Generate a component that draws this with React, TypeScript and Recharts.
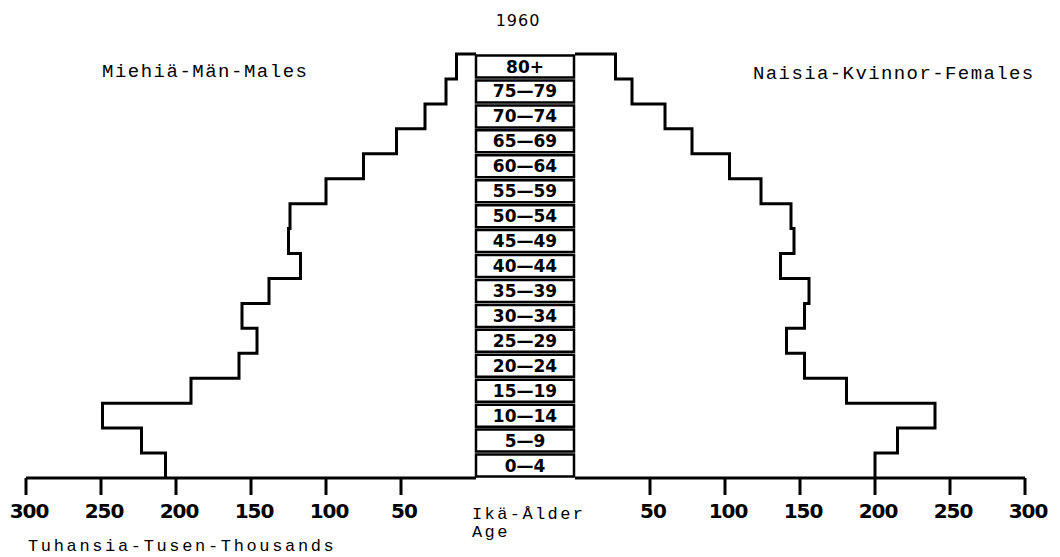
import { Bar, BarChart, LabelList, Scatter, ScatterChart, XAxis, YAxis } from "recharts";

const AGE_GROUPS = [
  "0—4", "5—9", "10—14", "15—19", "20—24", "25—29", "30—34", "35—39", "40—44",
  "45—49", "50—54", "55—59", "60—64", "65—69", "70—74", "75—79", "80+",
];
// lower/upper bounds of the age groups, in years
const AGE_BOUNDS = [0, 5, 10, 15, 20, 25, 30, 35, 40, 45, 50, 55, 60, 65, 70, 75, 80, 85];
// thousands, 0-4 first
const MALES = [207, 223, 249, 190, 158, 146, 156, 138, 117, 125, 124, 100, 75, 53, 34, 20, 13];
const FEMALES = [200, 215, 240, 181, 153, 141, 153, 156, 137, 146, 144, 124, 103, 78, 60, 38, 27];
const X_TICKS = [50, 100, 150, 200, 250, 300];

const INK = "#000";
const MONO = "'Liberation Mono', 'DejaVu Sans Mono', monospace";

// corners of the step outline: both ends of each age group, then back to the centre at the top
function stepPoints(values: number[]) {
  const pts: Array<{ v: number; age: number }> = [];
  values.forEach((v, i) => {
    pts.push({ v, age: AGE_BOUNDS[i] });
    pts.push({ v, age: AGE_BOUNDS[i + 1] });
  });
  pts.push({ v: 0, age: AGE_BOUNDS[values.length] });
  return pts;
}

const boxData = AGE_GROUPS.map((age) => ({ age, cell: 1 }));

function Side({
  values,
  reversed,
  width,
  margin,
}: {
  values: number[];
  reversed: boolean;
  width: number;
  margin: { top: number; right: number; bottom: number; left: number };
}) {
  return (
    <ScatterChart width={width} height={494} margin={margin}>
      <XAxis
        type="number"
        dataKey="v"
        domain={[0, 300]}
        reversed={reversed}
        ticks={X_TICKS}
        interval={0}
        height={60}
        axisLine={{ stroke: INK, strokeWidth: 3 }}
        tickLine={{ stroke: INK, strokeWidth: 3 }}
        tickSize={17}
        tickMargin={9}
        tick={{ fill: INK, fontSize: 20, fontWeight: 700, fontFamily: "DejaVu Sans", letterSpacing: -1, dx: 3 }}
      />
      <YAxis type="number" dataKey="age" domain={[0, 85]} hide />
      <Scatter
        data={stepPoints(values)}
        line={{ stroke: INK, strokeWidth: 3 }}
        shape={() => <g />}
        isAnimationActive={false}
      />
    </ScatterChart>
  );
}

export default function App() {
  return (
    <div style={{ position: "absolute", left: 0, top: 0, width: 1060, height: 557, background: "#fff" }}>
      <div style={{ position: "absolute", left: 0, top: 44 }}>
        <Side values={MALES} reversed width={486} margin={{ top: 10, right: 10, bottom: 0, left: 26 }} />
      </div>
      <div style={{ position: "absolute", left: 565, top: 44 }}>
        <Side values={FEMALES} reversed={false} width={495} margin={{ top: 10, right: 35, bottom: 0, left: 10 }} />
      </div>
      <div style={{ position: "absolute", left: 471, top: 49 }}>
        <BarChart
          layout="vertical"
          width={108}
          height={434}
          data={boxData}
          margin={{ top: 5, right: 5, bottom: 5, left: 5 }}
          barCategoryGap={1.5}
        >
          <XAxis type="number" domain={[0, 1]} hide />
          <YAxis type="category" dataKey="age" reversed hide />
          <Bar dataKey="cell" fill="#fff" stroke={INK} strokeWidth={2.5} isAnimationActive={false}>
            <LabelList
              dataKey="age"
              position="center"
              fill={INK}
              fontSize={17}
              fontWeight={700}
              fontFamily="DejaVu Sans"
            />
          </Bar>
        </BarChart>
      </div>
      <svg width={1060} height={557} style={{ position: "absolute", left: 0, top: 0, pointerEvents: "none" }}>
        <text x={518} y={26} textAnchor="middle" fontSize={16} fontFamily="DejaVu Sans" letterSpacing={1} fill={INK}>
          1960
        </text>
        <text x={102} y={77} fontSize={19} fontFamily={MONO} letterSpacing={1.5} fill={INK}>
          Miehiä-Män-Males
        </text>
        <text x={753} y={79} fontSize={19} fontFamily={MONO} letterSpacing={1.4} fill={INK}>
          Naisia-Kvinnor-Females
        </text>
        <text x={472} y={519} fontSize={17} fontFamily={MONO} letterSpacing={2.4} fill={INK}>
          Ikä-Ålder
        </text>
        <text x={472} y={537} fontSize={17} fontFamily={MONO} letterSpacing={2.4} fill={INK}>
          Age
        </text>
        <text x={28} y={551} fontSize={17} fontFamily={MONO} letterSpacing={2.65} fill={INK}>
          Tuhansia-Tusen-Thousands
        </text>
      </svg>
    </div>
  );
}
